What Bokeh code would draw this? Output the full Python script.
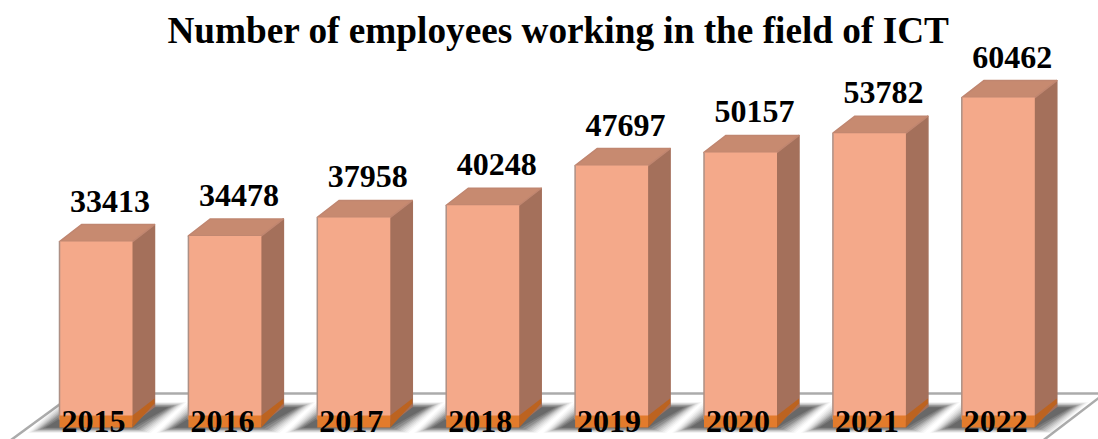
from bokeh.plotting import figure
from bokeh.models import Range1d
from bokeh.core.properties import value
from bokeh.embed import file_html
from bokeh.resources import INLINE

years = ["2015", "2016", "2017", "2018", "2019", "2020", "2021", "2022"]
employees = [33413, 34478, 37958, 40248, 47697, 50157, 53782, 60462]
title = "Number of employees working in the field of ICT"

W, H = 1098, 439
SLOT = 128.9          # px per category
PXV = 0.005324        # px per employee
X0_PAGE = 95.5        # page px of first bar centre
Y0_PAGE = 419         # page px of value zero
FONT = value("Liberation Serif")

p = figure(width=W, height=H, output_backend="svg", toolbar_location=None,
           min_border=0, min_border_left=0, min_border_right=0,
           min_border_top=0, min_border_bottom=0, outline_line_color=None)
p.axis.visible = False
p.grid.visible = False

p.x_range = Range1d((0 - X0_PAGE) / SLOT, (W - X0_PAGE) / SLOT)
p.y_range = Range1d((Y0_PAGE - H) / PXV, Y0_PAGE / PXV)

def dx(px):
    return px / SLOT
def dy(px):
    return px / PXV

n = len(years)
idx = list(range(n))
half = 36.5
dep_x, dep_y = 22, 17

# floor edges: back, left and right; the front runs off the picture
p.multi_line([[dx(x - X0_PAGE) for x in (3, 74)],
              [dx(x - X0_PAGE) for x in (74, 1104)],
              [dx(x - X0_PAGE) for x in (1104, 1036)]],
             [[dy(Y0_PAGE - y) for y in (445, 393)],
              [dy(Y0_PAGE - y) for y in (393, 393)],
              [dy(Y0_PAGE - y) for y in (393, 445)]],
             line_color="#ABABAB", line_width=2.5)

# soft floor shadows, one stack per bar
for grow, alpha in [(12, 0.04), (10, 0.06), (8, 0.08), (6, 0.10), (4, 0.13), (2, 0.16), (0, 0.22), (-3, 0.28), (-6, 0.3)]:
    xs, ys = [], []
    for i in idx:
        xs.append([i + dx(v) for v in (-half - 20 - grow, half + 6 + grow, half + 42 + grow, -half + 12 - grow)])
        ys.append([dy(Y0_PAGE - y) for y in (429 + grow * .3, 429 + grow * .3, 405 - grow * .3, 405 - grow * .3)])
    p.patches(xs, ys, fill_color="#404040", fill_alpha=alpha, line_color=None)

# side faces
p.patches([[i + dx(half), i + dx(half + dep_x), i + dx(half + dep_x), i + dx(half)] for i in idx],
          [[dy(-4), dy(-4 + dep_y), v + dy(dep_y), v] for v in employees],
          fill_color="#A4705B", line_color="#A4705B", line_width=1.5, line_join="round")
# top faces
p.patches([[i - dx(half), i + dx(half), i + dx(half + dep_x), i + dx(-half + dep_x)] for i in idx],
          [[v, v, v + dy(dep_y), v + dy(dep_y)] for v in employees],
          fill_color="#C78A70", line_color="#C08670", line_width=1.5, line_join="round")
# front faces
p.vbar(x=idx, top=employees, bottom=0, width=dx(2 * half), fill_color="#F4A98A",
       line_color=None)
p.segment(x0=[i - dx(half) for i in idx], x1=[i - dx(half) for i in idx], y0=[0] * n,
          y1=employees, line_color="#AD9085", line_width=1.5)

# orange plinth
p.vbar(x=idx, top=dy(4), bottom=dy(-8), width=dx(2 * half), fill_color="#E27B2C", line_color=None)
p.patches([[i + dx(half), i + dx(half + dep_x), i + dx(half + dep_x), i + dx(half)] for i in idx],
          [[dy(4), dy(21), dy(16), dy(-8)] for i in idx],
          fill_color="#BC6320", line_color=None)

# value labels
p.text(x=[i + dx(14) for i in idx], y=[v + dy(30) for v in employees], text=[str(v) for v in employees],
       text_font=FONT, text_font_style="bold", text_font_size="32px",
       text_align="center", text_baseline="bottom", text_color="black")
# year labels
p.text(x=[i - dx(2.5) for i in idx], y=[dy(-12.5)] * n, text=years, text_font=FONT, text_font_style="bold",
       text_font_size="32px", text_align="center", text_baseline="bottom", text_color="black")
# chart title
p.text(x=[dx(558 - X0_PAGE)], y=[dy(Y0_PAGE - 50)], text=[title], text_font=FONT, text_font_style="bold",
       text_font_size="37.25px", text_align="center", text_baseline="bottom", text_color="black")

open("out.html", "w").write(file_html(p, INLINE))
